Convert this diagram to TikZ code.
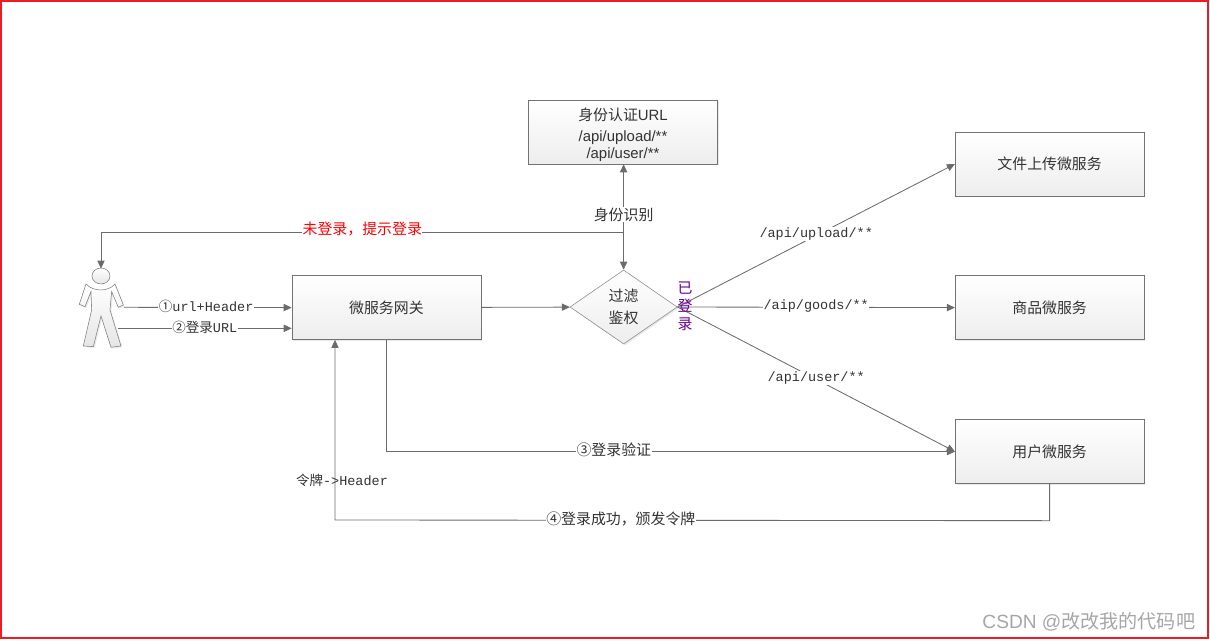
\documentclass[tikz,border=0pt]{standalone}
\usepackage{fontspec}
\setmainfont{Liberation Sans}
\setmonofont{Liberation Mono}
\newfontfamily\cjk{Noto Sans CJK SC}
\usetikzlibrary{shapes.geometric,positioning,arrows.meta,calc,shadows}
\definecolor{framered}{RGB}{237,28,36}

\begin{document}
\begin{tikzpicture}[
  box/.style={rectangle, draw=black!55, top color=white, bottom color=gray!14, align=center, text=black!80, font=\cjk\fontsize{10.6}{12}\selectfont, minimum width=4.72cm, minimum height=1.6cm, inner sep=0pt, drop shadow={shadow xshift=1pt, shadow yshift=-1pt, opacity=.18, fill=gray}},
  decision/.style={diamond, draw=black!45, top color=white, bottom color=gray!14, align=center, text=black!80, font=\cjk\fontsize{10.6}{16}\selectfont, minimum width=2.68cm, minimum height=1.85cm, aspect=1.45, inner sep=0pt, drop shadow={shadow xshift=1pt, shadow yshift=-1pt, opacity=.18, fill=gray}},
  arrow/.style={-{Triangle[length=2mm, width=1.8mm]}, draw=black!58, line width=0.6pt},
  tag/.style={fill=white, inner sep=0.4pt, yshift=1pt, font=\ttfamily\fontsize{9.6}{11}\selectfont, text=black!80},
  cjktag/.style={tag, font=\cjk\fontsize{10.6}{12}\selectfont},
]
\useasboundingbox (0,0) rectangle (30.25,16.05);

% === FRAME ===
\draw[framered, line width=1.3pt] (0.03,0.1) rectangle (30.2,16.02);

% === BOXES ===
\node[box] (auth) at (15.575,12.75) {\rule{0pt}{13pt}身份认证{\fontspec{Liberation Sans}URL}\\[3pt]
  {\fontspec{Liberation Sans}\fontsize{10.6}{13}\selectfont /api/upload/**}\\
  {\fontspec{Liberation Sans}\fontsize{10.6}{13}\selectfont /api/user/**}};
\node[box] (gateway) at (9.66,8.36) {微服务网关};
\node[decision] (filter) at (15.59,8.375) {过滤\\鉴权};
\node[box] (upload) at (26.24,11.95) {文件上传微服务};
\node[box] (goods) at (26.24,8.36) {商品微服务};
\node[box] (user) at (26.24,4.76) {用户微服务};

% === PERSON ===
\begin{scope}[shift={(1.5,10.8)}, x=0.00833cm, y=-0.00833cm]
  \draw[black!50, top color=white, bottom color=gray!20, drop shadow={shadow xshift=1pt, shadow yshift=-1pt, opacity=.15, fill=gray}]
    (78,222) .. controls (100,246) and (145,246) .. (165,222)
    -- (190,285) -- (175,292) -- (155,245) -- (150,300) -- (183,408) -- (153,412)
    -- (123,318) -- (100,410) -- (70,408) -- (95,300) -- (93,245) -- (75,290) -- (58,283) -- cycle;
  \draw[black!50, top color=white, bottom color=gray!20] (123,198) ellipse (27 and 24);
  \coordinate (head) at (123,176);
  \coordinate (hand) at (192,292);
  \coordinate (leg) at (174,355);
\end{scope}

% === ROUTES ===
\coordinate (fork) at (15.59,10.25);
\coordinate (backR) at ($(user.south)+(0,-0.92)$);
\coordinate (backL) at (8.375,3.05);
\coordinate (gateIn) at (gateway.south -| backL);
\coordinate (gateUrl) at (gateway.west |- leg);

\draw[arrow, {Triangle[length=2mm, width=1.8mm]}-{Triangle[length=2mm, width=1.8mm]}] (filter.north) -- (filter.north |- auth.south);
\draw[arrow] (fork) -| node[cjktag, pos=.25, text=red, yshift=1pt] (nologin) {未登录，提示登录} (head);
\draw[arrow] (hand) -- node[tag, pos=.49] (step1) {{\cjk ①}url+Header} (gateway.west);
\draw[arrow] (leg) -- node[tag, pos=.5] (step2) {{\cjk ②登录}URL} (gateUrl);
\draw[arrow] (gateway) -- (filter);
\draw[arrow] (filter.east) -- node[tag, pos=.5] (r1) {/api/upload/**} (upload.west);
\draw[arrow] (filter.east) -- node[tag, pos=.5] (r2) {/aip/goods/**} (goods.west);
\draw[arrow] (filter.east) -- node[tag, pos=.5] (r3) {/api/user/**} (user.west);
\draw[arrow] (gateway.south) |- node[cjktag, pos=.7] (step3) {③登录验证} (user.west);
\draw[arrow] (user.south) -- (backR) -- node[cjktag, pos=.6] (step4) {④登录成功，颁发令牌} (backL) -- (gateIn);

% === LABELS ===
\node[cjktag] (who) at (15.59,10.65) {身份识别};
\node[tag, fill=none] (token) at (8.55,4) {{\cjk 令牌}->Header};
\node[align=center, text=violet!80!blue, font=\cjk\fontsize{10.6}{12.8}\selectfont, inner sep=0pt] (done) at (17.125,8.4) {已\\登\\录};
\node[text=gray!70, font=\fontsize{13.6}{15}\selectfont, inner sep=0pt] (mark) at (27.22,0.5) {CSDN @{\cjk 改改我的代码吧}};
\end{tikzpicture}
\end{document}
